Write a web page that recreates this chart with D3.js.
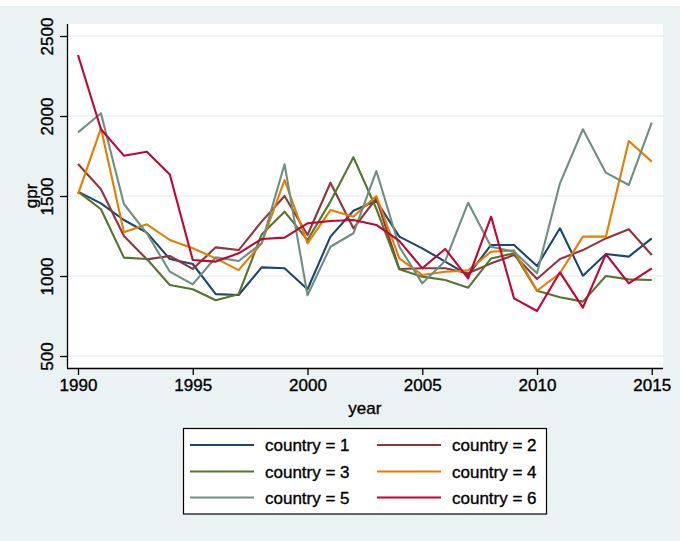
<!DOCTYPE html>
<html><head><meta charset="utf-8">
<script src="https://cdn.jsdelivr.net/npm/d3@7"></script>
<style>body{margin:0;background:#fff}svg{display:block}text{font-family:"Liberation Sans",Arial,sans-serif;fill:#000}</style>
</head><body>
<svg id="c" width="685" height="541"></svg>
<script>
const years = d3.range(1990, 2016);
const country1 = [1527,1454,1350,1271,1106,1075,887,881,1054,1048,917,1246,1408,1470,1246,1173,1090,1006,1194,1194,1062,1298,1002,1137,1121,1235];
const country2 = [1700,1542,1250,1104,1125,1044,1179,1162,1340,1500,1256,1583,1298,1485,1044,1048,1048,1017,1079,1131,981,1106,1162,1235,1292,1131];
const country3 = [1527,1417,1115,1106,944,917,848,886,1260,1402,1225,1465,1742,1420,1042,996,975,927,1110,1142,908,867,840,1000,979,975];
const country4 = [1512,1923,1273,1323,1225,1173,1110,1037,1204,1600,1204,1412,1371,1500,1110,1006,1027,1035,1152,1160,908,1017,1246,1246,1844,1715];
const country5 = [1898,2017,1450,1267,1027,948,1117,1094,1204,1698,880,1183,1267,1656,1183,954,1094,1458,1183,1152,1017,1579,1917,1646,1569,1958];
const country6 = [2381,1917,1752,1777,1635,1100,1090,1142,1231,1240,1329,1344,1350,1319,1220,1048,1169,985,1371,860,781,1023,802,1137,954,1048];
const seriesNames = ["country = 1","country = 2","country = 3","country = 4","country = 5","country = 6"];
const colors = ["#1a476f","#90353b","#55752f","#e37e00","#6e8e84","#c10534"];
const yTicks = [500,1000,1500,2000,2500];
const xTicks = [1990,1995,2000,2005,2010,2015];
const allSeries = [country1,country2,country3,country4,country5,country6];

const svg = d3.select("#c");
svg.append("rect").attr("x",0).attr("y",6).attr("width",680).attr("height",535).attr("fill","#eaf2f3");
const x = d3.scaleLinear().domain([1989.52, 2015.49]).range([67, 663]);
const y = d3.scaleLinear().domain([425, 2575]).range([368, 24]);
svg.append("rect").attr("x",67).attr("y",24).attr("width",596).attr("height",344).attr("fill","#fff");
// grid
svg.append("g").selectAll("line").data(yTicks).join("line")
  .attr("x1",67).attr("x2",663).attr("y1",d=>y(d)).attr("y2",d=>y(d))
  .attr("stroke","#eaf2f3").attr("stroke-width",1.6);
// axes
const xAxis = d3.axisBottom(x).tickValues(xTicks).tickFormat(d3.format("d")).tickSize(7).tickPadding(4).tickSizeOuter(0);
const gx = svg.append("g").attr("transform","translate(0,368)").call(xAxis);
const yAxis = d3.axisLeft(y).tickValues(yTicks).tickFormat(d3.format("d")).tickSize(7).tickPadding(5).tickSizeOuter(0);
const gy = svg.append("g").attr("transform","translate(67,0)").call(yAxis);
[gx,gy].forEach(g=>{g.select(".domain").attr("stroke","#000").attr("stroke-width",1.3);
  g.selectAll(".tick line").attr("stroke","#000").attr("stroke-width",1.3);
  g.selectAll("text").attr("font-size",17).attr("font-family","Liberation Sans, Arial, sans-serif").attr("fill","#000").attr("stroke","#000").attr("stroke-width",0.35);});
gx.select(".domain").attr("d","M67,0.5H663");
gy.select(".domain").attr("d","M0.5,24V368");
gy.selectAll(".tick text").attr("transform","rotate(-90)").attr("text-anchor","middle").attr("x",0).attr("y",-14).attr("dy","0");
// lines
const line = d3.line().x((d,i)=>x(years[i])).y(d=>y(d));
svg.append("g").selectAll("path").data(allSeries).join("path")
  .attr("d",line).attr("fill","none").attr("stroke",(d,i)=>colors[i]).attr("stroke-width",2.1).attr("stroke-linejoin","round");
// titles
svg.append("text").attr("x",x(2002.5)).attr("y",414).attr("text-anchor","middle").attr("font-size",17).attr("stroke","#000").attr("stroke-width",0.35).text("year");
svg.append("text").attr("transform",`translate(37,${y(1500)}) rotate(-90)`).attr("text-anchor","middle").attr("font-size",17).attr("stroke","#000").attr("stroke-width",0.35).text("gpr");
// legend
const lg = svg.append("g");
lg.append("rect").attr("x",183.5).attr("y",428.5).attr("width",363).attr("height",85.5).attr("fill","#fff").attr("stroke","#000").attr("stroke-width",1.2);
const rowsY = [445,471.5,497.5];
seriesNames.forEach((n,i)=>{
  const col = i%2, row = Math.floor(i/2);
  const lx = col===0 ? 190 : 377;
  lg.append("line").attr("x1",lx).attr("x2",lx+64).attr("y1",rowsY[row]).attr("y2",rowsY[row]).attr("stroke",colors[i]).attr("stroke-width",2.1);
  lg.append("text").attr("x",lx+75).attr("y",rowsY[row]+6).attr("font-size",17).attr("stroke","#000").attr("stroke-width",0.35).text(n);
});
</script>
</body></html>
